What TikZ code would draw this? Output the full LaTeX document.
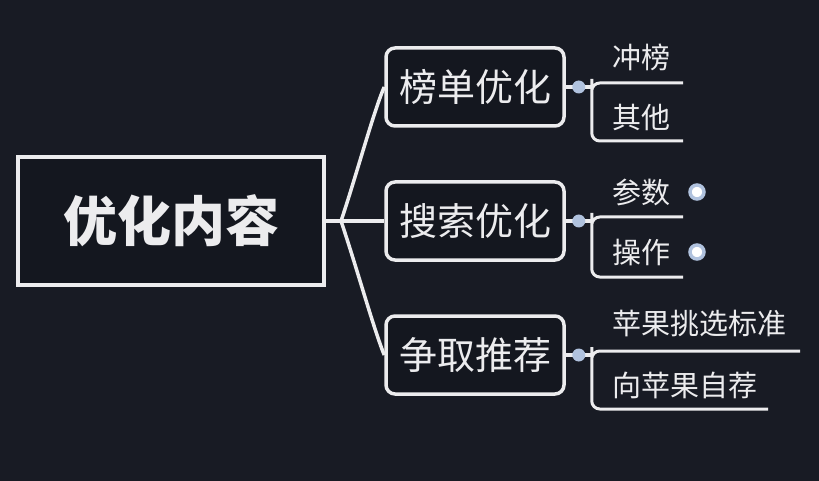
\documentclass[tikz,border=0pt]{standalone}
\usepackage{fontspec}
\newfontfamily\cjk{Noto Sans CJK SC}
\usepackage{xcolor}
\usetikzlibrary{calc}

\definecolor{bgnavy}{RGB}{24,27,36}
\definecolor{linewhite}{RGB}{236,236,238}
\definecolor{dotblue}{RGB}{176,194,222}

\tikzset{
    rootbox/.style={draw=linewhite, line width=4, fill=bgnavy!85!black, minimum width=306, minimum height=128, text=linewhite, font=\cjk\bfseries\fontsize{54}{54}\selectfont},
    branchbox/.style={draw=linewhite, line width=3.5, rounded corners=9, fill=bgnavy!85!black, minimum width=178, minimum height=78, text=linewhite, font=\cjk\fontsize{38}{38}\selectfont},
    leaftext/.style={anchor=west, text=linewhite, inner sep=0, font=\cjk\fontsize{29}{29}\selectfont},
    conn/.style={draw=linewhite, line width=3.5},
    leafline/.style={draw=linewhite, line width=3, rounded corners=8},
    knob/.style={circle, fill=dotblue, minimum size=13, inner sep=0},
    plusknob/.style={circle, draw=dotblue, line width=3.5, fill=white, minimum size=14, inner sep=0}
}

\begin{document}
\begin{tikzpicture}[x=1pt, y=-1pt]
        % Draw the background
        \fill[bgnavy] (0,0) rectangle (819,481);
        \useasboundingbox (0,0) rectangle (819,481);

        % Draw the root and the three branches
        \node[rootbox] (root) at (171,221) {优化内容};
        \node[branchbox] (rank) at (475,87) {榜单优化};
        \node[branchbox] (search) at (475,221) {搜索优化};
        \node[branchbox] (recom) at (475,355) {争取推荐};

        % Draw the fork from the root
        \coordinate (fork) at (341,221);
        \draw[conn] (root.east) -- (fork);
        \draw[conn] (fork) .. controls (355,180) and (374,110) .. (rank.west);
        \draw[conn] (fork) -- (search.west);
        \draw[conn] (fork) .. controls (355,262) and (374,330) .. (recom.west);

        % Draw the leaves of the first branch
        \coordinate (rankup) at (683,83);
        \coordinate (rankdown) at (683,141);
        \draw[leafline] (rankup) -| ($(rank.east)+(26,0)$) |- (rankdown);
        \draw[conn] (rank.east) -- ++(26,0);
        \node[knob] (k1) at ($(rank.east)+(13,0)$) {};
        \node[leaftext] (chong) at (612,57) {冲榜};
        \node[leaftext] (qita) at (612,117) {其他};

        % Draw the leaves of the second branch
        \coordinate (searchup) at (683,217);
        \coordinate (searchdown) at (683,277);
        \draw[leafline] (searchup) -| ($(search.east)+(26,0)$) |- (searchdown);
        \draw[conn] (search.east) -- ++(26,0);
        \node[knob] (k2) at ($(search.east)+(13,0)$) {};
        \node[leaftext] (canshu) at (612,192) {参数};
        \node[leaftext] (caozuo) at (612,252) {操作};
        \node[plusknob] (p1) at (697,192) {};
        \node[plusknob] (p2) at (697,252) {};

        % Draw the leaves of the third branch
        \coordinate (recomup) at (800,351);
        \coordinate (recomdown) at (768,409);
        \draw[leafline] (recomup) -| ($(recom.east)+(26,0)$) |- (recomdown);
        \draw[conn] (recom.east) -- ++(26,0);
        \node[knob] (k3) at ($(recom.east)+(13,0)$) {};
        \node[leaftext] (biaozhun) at (612,324) {苹果挑选标准};
        \node[leaftext] (zijian) at (612,385) {向苹果自荐};
    \end{tikzpicture}
\end{document}
